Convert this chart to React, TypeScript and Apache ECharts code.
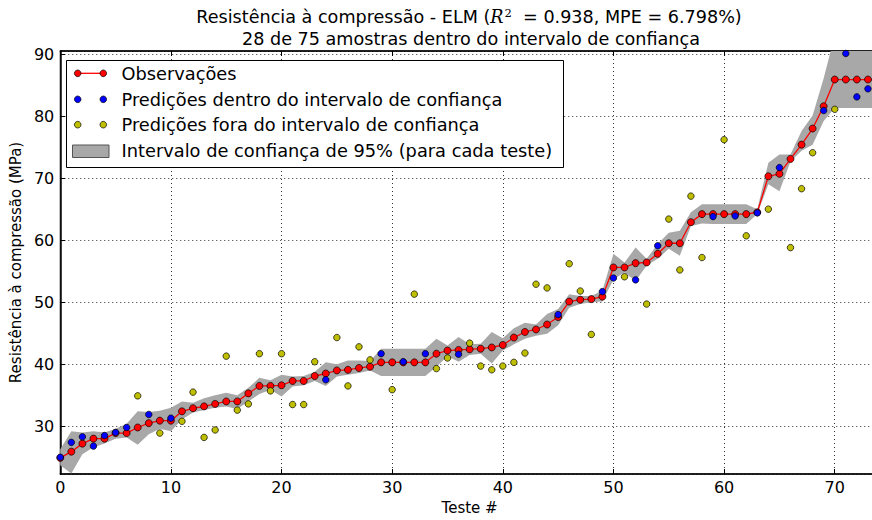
import React, { useEffect, useRef } from "react";
import * as echarts from "echarts";

const observations = [24.9, 25.9, 27.2, 28.0, 28.0, 28.9, 28.9, 29.8, 30.5, 30.9, 30.9, 32.4, 32.9, 33.2, 33.6, 34.0, 34.0, 35.3, 36.5, 36.5, 36.6, 37.3, 37.3, 38.1, 38.5, 39.0, 39.1, 39.4, 39.6, 40.3, 40.3, 40.3, 40.3, 40.3, 41.7, 42.2, 42.3, 42.4, 42.5, 42.7, 43.1, 44.3, 45.2, 45.6, 46.4, 47.6, 50.1, 50.4, 50.5, 50.9, 55.6, 55.6, 56.3, 56.4, 57.8, 59.5, 59.5, 62.9, 64.2, 64.2, 64.2, 64.2, 64.2, 64.5, 70.3, 70.7, 73.1, 75.4, 78.0, 81.6, 85.9, 85.9, 85.9, 85.9, 85.9];
const predictions = [25.0, 27.4, 28.3, 26.8, 28.5, 29.0, 29.8, 34.9, 31.9, 28.9, 31.3, 30.8, 35.5, 28.2, 29.4, 41.3, 32.6, 33.6, 41.7, 35.7, 41.7, 33.5, 33.5, 40.4, 37.5, 44.3, 36.5, 42.8, 40.7, 41.7, 35.9, 40.4, 51.3, 41.7, 39.3, 41.0, 41.6, 43.4, 39.7, 39.1, 39.7, 40.3, 41.8, 52.9, 52.3, 48.0, 56.2, 51.8, 44.8, 51.7, 53.9, 54.1, 53.6, 49.7, 59.1, 63.4, 55.2, 67.1, 57.2, 63.8, 76.2, 63.9, 60.7, 64.4, 65.0, 71.7, 58.8, 68.3, 74.1, 80.9, 81.1, 90.1, 83.1, 84.4, 85.0];
// 1 = inside the confidence interval (blue), 0 = outside (yellow)
const insideFlags = [1, 1, 1, 1, 1, 1, 1, 0, 1, 0, 1, 0, 0, 0, 0, 0, 0, 0, 0, 0, 0, 0, 0, 0, 1, 0, 0, 0, 0, 1, 0, 1, 0, 1, 0, 0, 1, 0, 0, 0, 0, 0, 0, 0, 0, 1, 0, 0, 0, 1, 1, 0, 1, 0, 1, 0, 0, 0, 0, 1, 0, 1, 0, 1, 0, 1, 0, 0, 0, 1, 0, 1, 1, 1, 1];
const ciLower = [23.7, 22.4, 25.5, 26.6, 27.2, 28.0, 28.2, 27.0, 28.7, 29.6, 29.2, 31.1, 32.2, 32.6, 33.0, 33.2, 32.8, 34.0, 35.2, 35.9, 34.8, 36.4, 36.6, 37.3, 36.5, 38.0, 38.3, 38.6, 39.0, 38.1, 38.1, 38.1, 38.1, 38.1, 39.6, 41.3, 40.4, 41.5, 41.7, 40.1, 42.2, 43.2, 44.1, 44.6, 44.9, 46.3, 49.1, 49.7, 50.0, 50.1, 53.7, 54.8, 53.4, 55.9, 57.0, 58.6, 57.5, 62.3, 62.7, 62.6, 62.6, 62.6, 62.6, 64.2, 69.0, 67.9, 72.7, 74.4, 75.4, 79.2, 81.3, 81.3, 81.3, 81.3, 81.3];
const ciUpper = [26.3, 29.2, 29.0, 29.2, 29.0, 29.6, 30.4, 32.4, 32.3, 32.5, 33.0, 34.0, 33.8, 34.5, 35.0, 35.4, 35.0, 36.2, 37.8, 37.4, 38.3, 38.0, 38.1, 38.8, 40.3, 40.0, 40.6, 40.6, 40.5, 42.5, 42.5, 42.5, 42.5, 42.5, 44.1, 43.0, 44.4, 43.2, 43.3, 45.2, 44.2, 45.8, 46.7, 46.4, 48.1, 48.9, 51.3, 51.0, 51.0, 51.9, 57.8, 56.4, 58.8, 57.0, 59.4, 61.2, 61.5, 64.5, 65.8, 65.8, 65.8, 65.8, 65.8, 65.0, 72.5, 73.8, 73.8, 77.6, 80.1, 86.1, 93.0, 93.0, 93.0, 93.0, 93.0];
const xTicks = [0, 10, 20, 30, 40, 50, 60, 70];
const yTicks = [30, 40, 50, 60, 70, 80, 90];

const FONT = "DejaVu Sans";
const GRAY = "#a8a8a8";
const YELLOW = "#bfbf00";

export default function App() {
  const ref = useRef<HTMLDivElement>(null);
  useEffect(() => {
    if (!ref.current) return;
    document.body.style.overflow = "hidden";
    const chart = echarts.init(ref.current, null, { renderer: "svg" });
    const idx = observations.map((_, i) => i);
    const obsData = idx.map((i) => [i, observations[i]]);
    const inData = idx.filter((i) => insideFlags[i] === 1).map((i) => [i, predictions[i]]);
    const outData = idx.filter((i) => insideFlags[i] === 0).map((i) => [i, predictions[i]]);
    const bandData = idx.map((i) => [i, ciLower[i], ciUpper[i]]);

    const gridLine = { show: true, lineStyle: { color: "#333", width: 1, type: [1, 3] as any } };
    const marker = (color: string, size: number) => ({
      symbol: "circle",
      symbolSize: size,
      itemStyle: { color, borderColor: "#000", borderWidth: 0.7, opacity: 1 },
    });

    const legendY = [73.3, 99.3, 124.7, 150.7];
    const legendTexts = [
      "Observações",
      "Predições dentro do intervalo de confiança",
      "Predições fora do intervalo de confiança",
      "Intervalo de confiança de 95% (para cada teste)",
    ];

    chart.setOption({
      animation: false,
      grid: { left: 57, top: 51, right: 0, bottom: 44, show: true, borderColor: "#000", borderWidth: 1, backgroundColor: "transparent" },
      xAxis: [
        {
          type: "value",
          min: 0,
          max: 74,
          interval: 10,
          name: "Teste #",
          nameLocation: "middle",
          nameGap: 26,
          nameTextStyle: { fontFamily: FONT, fontSize: 15, color: "#000" },
          axisLine: { show: true, onZero: false, lineStyle: { color: "#000", width: 1.5 } },
          axisTick: { show: true, inside: true, length: 5, lineStyle: { color: "#000" } },
          axisLabel: {
            fontFamily: FONT,
            fontSize: 16,
            color: "#000",
            margin: 5,
            showMaxLabel: false,
            formatter: (v: number) => (xTicks.includes(v) ? String(v) : ""),
          },
          splitLine: gridLine,
        },
        {
          type: "value",
          position: "top",
          min: 0,
          max: 74,
          interval: 10,
          axisLine: { show: true, onZero: false, lineStyle: { color: "#000", width: 1.5 } },
          axisTick: { show: true, inside: true, length: 5, lineStyle: { color: "#000" } },
          axisLabel: { show: false },
          splitLine: { show: false },
        },
      ],
      yAxis: {
        type: "value",
        min: 22.3,
        max: 90.5,
        minInterval: 10,
        maxInterval: 10,
        name: "Resistência à compressão (MPa)",
        nameLocation: "middle",
        nameGap: 31,
        nameTextStyle: { fontFamily: FONT, fontSize: 15, color: "#000" },
        axisLine: { show: true, onZero: false, lineStyle: { color: "#000", width: 1.5 } },
        axisTick: { show: true, inside: true, length: 5, lineStyle: { color: "#000" } },
        axisLabel: {
          fontFamily: FONT,
          fontSize: 16,
          color: "#000",
          margin: 6,
          showMinLabel: false,
          showMaxLabel: false,
          formatter: (v: number) => (yTicks.includes(v) ? String(v) : ""),
        },
        splitLine: gridLine,
      },
      series: [
        {
          type: "custom",
          coordinateSystem: "cartesian2d",
          data: bandData,
          encode: { x: 0, y: [1, 2] },
          clip: true,
          silent: true,
          z: 1,
          renderItem: (params: any, api: any) => {
            if (params.dataIndex !== 0) return null;
            const pts: number[][] = [];
            for (let i = 0; i < bandData.length; i++) pts.push(api.coord([bandData[i][0], bandData[i][2]]));
            for (let i = bandData.length - 1; i >= 0; i--) pts.push(api.coord([bandData[i][0], bandData[i][1]]));
            return { type: "polygon", shape: { points: pts }, style: { fill: GRAY, stroke: null } };
          },
        },
        {
          type: "line",
          data: obsData,
          ...marker("#ff0000", 7),
          showAllSymbol: true,
          lineStyle: { color: "#ff0000", width: 1.3 },
          z: 3,
        },
        {
          type: "scatter",
          data: inData,
          ...marker("#0000ff", 6.5),
          z: 4,
        },
        {
          type: "scatter",
          data: outData,
          ...marker(YELLOW, 6.5),
          z: 4,
        },
      ],
      graphic: [
        {
          type: "text",
          x: 469,
          y: 17,
          z: 10,
          style: {
            text: "{a|Resistência à compressão - ELM (}{r|R}{s|2}{a|  = 0.938, MPE = 6.798%)}",
            align: "center",
            verticalAlign: "middle",
            rich: {
              a: { fontFamily: FONT, fontSize: 17.6, fill: "#000", lineHeight: 20 },
              r: { fontFamily: "DejaVu Serif", fontStyle: "italic", fontSize: 17.6, fill: "#000", lineHeight: 20 },
              s: { fontFamily: "DejaVu Serif", fontSize: 11.5, fill: "#000", verticalAlign: "top", lineHeight: 14, padding: [0, 0, 0, 1] },
            },
          },
        },
        {
          type: "text",
          x: 471,
          y: 39,
          z: 10,
          style: {
            text: "28 de 75 amostras dentro do intervalo de confiança",
            align: "center",
            verticalAlign: "middle",
            fontFamily: FONT,
            fontSize: 17.6,
            fill: "#000",
          },
        },
        {
          type: "rect",
          z: 10,
          shape: { x: 66.5, y: 60.5, width: 497, height: 107 },
          style: { fill: "#fff", stroke: "#000", lineWidth: 1 },
        },
        {
          type: "line",
          z: 11,
          shape: { x1: 77.7, y1: legendY[0], x2: 103.3, y2: legendY[0] },
          style: { stroke: "#ff0000", lineWidth: 1.3 },
        },
        ...[0, 1, 2].flatMap((k) =>
          [77.7, 103.3].map((cx) => ({
            type: "circle",
            z: 12,
            shape: { cx, cy: legendY[k], r: 3.3 },
            style: { fill: ["#ff0000", "#0000ff", YELLOW][k], stroke: "#000", lineWidth: 0.7 },
          }))
        ),
        {
          type: "rect",
          z: 11,
          shape: { x: 72.5, y: 145, width: 36.5, height: 12.5 },
          style: { fill: GRAY, stroke: "#555", lineWidth: 1 },
        },
        ...legendTexts.map((t, k) => ({
          type: "text",
          z: 12,
          x: 121.5,
          y: legendY[k],
          style: { text: t, fontFamily: FONT, fontSize: 17.8, fill: "#000", verticalAlign: "middle", align: "left" },
        })),
      ],
    });
    return () => chart.dispose();
  }, []);
  return (
    <div
      ref={ref}
      style={{ position: "fixed", left: 0, top: 0, width: 879, height: 520, background: "#fff" }}
    />
  );
}
